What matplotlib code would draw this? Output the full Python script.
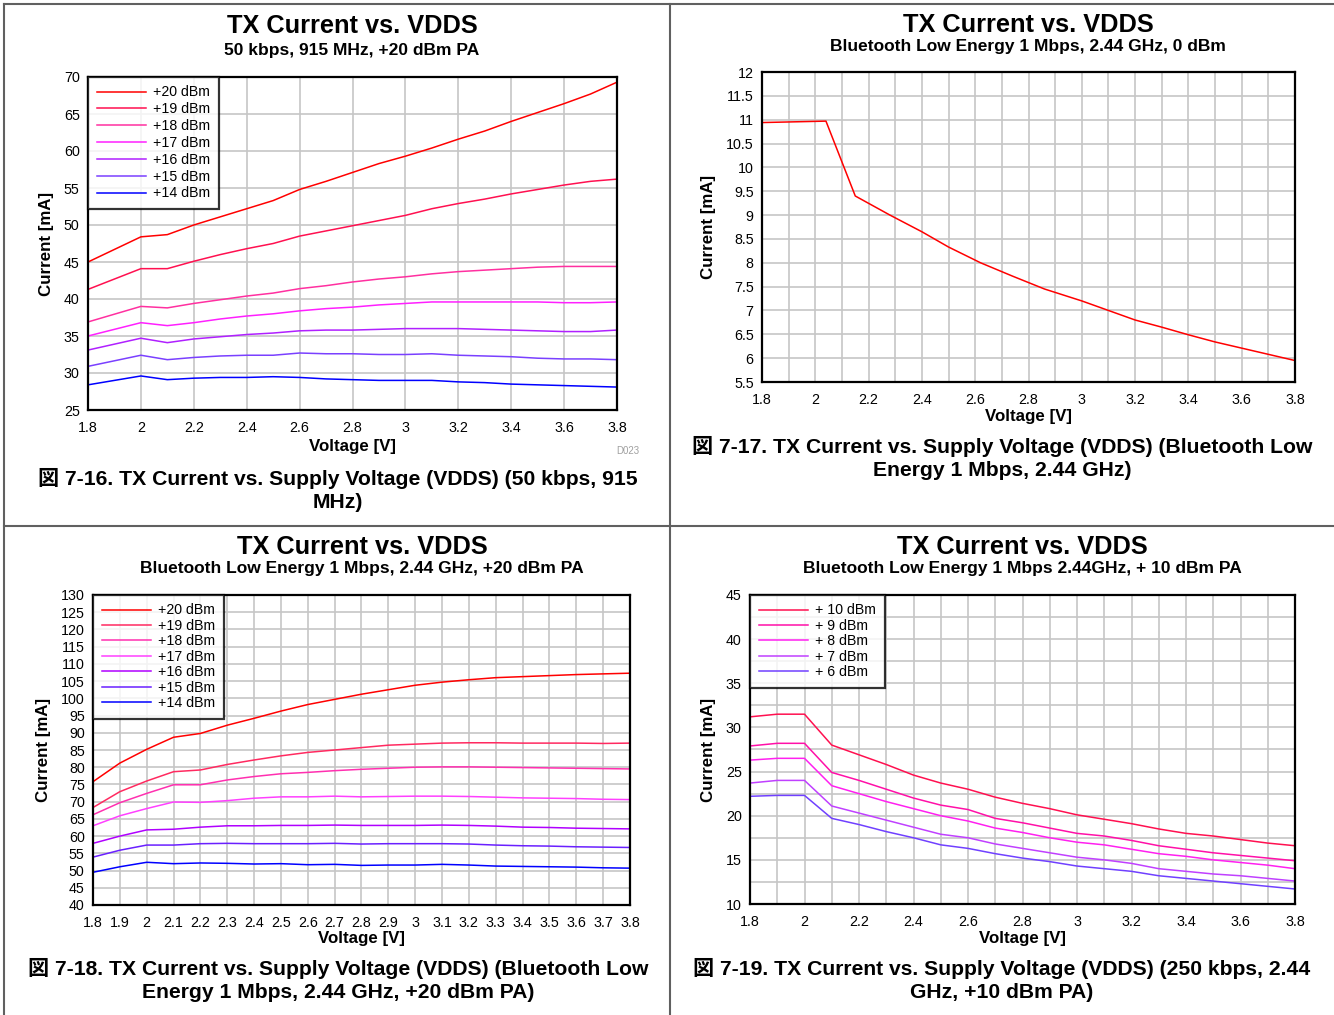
import matplotlib
matplotlib.use('Agg')
from matplotlib import pyplot as plt
from matplotlib.lines import Line2D

plt.rcParams['font.family'] = ['Liberation Sans', 'Noto Sans CJK JP', 'DejaVu Sans']

# --- figure 7-16: 50 kbps, 915 MHz, +20 dBm PA
v_1 = [1.8, 2.0, 2.1, 2.2, 2.3, 2.4, 2.5, 2.6, 2.7, 2.8, 2.9, 3.0, 3.1, 3.2, 3.3, 3.4, 3.5, 3.6, 3.7, 3.8]
labels_1 = ['+20 dBm', '+19 dBm', '+18 dBm', '+17 dBm', '+16 dBm', '+15 dBm', '+14 dBm']
colors_1 = ['#ff0000', '#ff1050', '#ff30a0', '#ff20ff', '#b020ff', '#7a40ff', '#0000ff']
i_20_1 = [45.0, 48.4, 48.7, 50.0, 51.1, 52.2, 53.3, 54.8, 55.9, 57.1, 58.3, 59.3, 60.4, 61.6, 62.7, 64.0, 65.2, 66.4, 67.7, 69.3]
i_19_1 = [41.3, 44.1, 44.1, 45.1, 46.0, 46.8, 47.5, 48.5, 49.2, 49.9, 50.6, 51.3, 52.2, 52.9, 53.5, 54.2, 54.8, 55.4, 55.9, 56.2]
i_18_1 = [36.9, 39.0, 38.8, 39.4, 39.9, 40.4, 40.8, 41.4, 41.8, 42.3, 42.7, 43.0, 43.4, 43.7, 43.9, 44.1, 44.3, 44.4, 44.4, 44.4]
i_17_1 = [35.0, 36.8, 36.4, 36.8, 37.3, 37.7, 38.0, 38.4, 38.7, 38.9, 39.2, 39.4, 39.6, 39.6, 39.6, 39.6, 39.6, 39.5, 39.5, 39.6]
i_16_1 = [33.1, 34.7, 34.1, 34.6, 34.9, 35.2, 35.4, 35.7, 35.8, 35.8, 35.9, 36.0, 36.0, 36.0, 35.9, 35.8, 35.7, 35.6, 35.6, 35.8]
i_15_1 = [30.9, 32.4, 31.8, 32.1, 32.3, 32.4, 32.4, 32.7, 32.6, 32.6, 32.5, 32.5, 32.6, 32.4, 32.3, 32.2, 32.0, 31.9, 31.9, 31.8]
i_14_1 = [28.4, 29.6, 29.1, 29.3, 29.4, 29.4, 29.5, 29.4, 29.2, 29.1, 29.0, 29.0, 29.0, 28.8, 28.7, 28.5, 28.4, 28.3, 28.2, 28.1]

# --- figure 7-17: BLE 1 Mbps, 2.44 GHz, 0 dBm
v_2 = [1.8, 2.04, 2.15, 2.28, 2.4, 2.5, 2.62, 2.74, 2.86, 3.0, 3.1, 3.2, 3.3, 3.4, 3.5, 3.6, 3.7, 3.8]
i_0_2 = [10.94, 10.97, 9.40, 9.0, 8.65, 8.33, 8.0, 7.72, 7.45, 7.2, 7.0, 6.8, 6.65, 6.49, 6.34, 6.21, 6.08, 5.95]

# --- figure 7-18: BLE 1 Mbps, 2.44 GHz, +20 dBm PA
v_3 = [1.8, 1.9, 2.0, 2.1, 2.2, 2.3, 2.4, 2.5, 2.6, 2.7, 2.8, 2.9, 3.0, 3.1, 3.2, 3.3, 3.4, 3.5, 3.6, 3.7, 3.8]
labels_3 = ['+20 dBm', '+19 dBm', '+18 dBm', '+17 dBm', '+16 dBm', '+15 dBm', '+14 dBm']
colors_3 = ['#ff0000', '#ff2a60', '#ff30b0', '#ff40ff', '#b000ff', '#6a20ff', '#0000ff']
i_20_3 = [75.8, 81.2, 85.2, 88.7, 89.8, 92.2, 94.2, 96.3, 98.2, 99.7, 101.2, 102.5, 103.8, 104.7, 105.4, 106.0, 106.3, 106.6, 106.9, 107.1, 107.3]
i_19_3 = [68.3, 72.9, 76.0, 78.7, 79.2, 80.8, 82.1, 83.3, 84.3, 85.0, 85.7, 86.4, 86.7, 87.0, 87.1, 87.1, 87.0, 87.0, 87.0, 86.9, 87.0]
i_18_3 = [66.2, 69.7, 72.4, 74.9, 74.9, 76.3, 77.3, 78.1, 78.5, 79.0, 79.4, 79.7, 80.0, 80.1, 80.1, 80.0, 79.9, 79.8, 79.7, 79.6, 79.5]
i_17_3 = [63.0, 65.9, 68.0, 69.9, 69.8, 70.3, 71.0, 71.4, 71.4, 71.6, 71.4, 71.5, 71.6, 71.6, 71.5, 71.3, 71.1, 71.0, 70.9, 70.7, 70.6]
i_16_3 = [57.9, 60.0, 61.8, 62.0, 62.6, 63.0, 63.0, 63.1, 63.1, 63.2, 63.1, 63.1, 63.1, 63.2, 63.1, 62.9, 62.6, 62.5, 62.3, 62.2, 62.1]
i_15_3 = [53.9, 55.9, 57.4, 57.4, 57.8, 57.9, 57.8, 57.8, 57.8, 57.9, 57.7, 57.8, 57.8, 57.8, 57.7, 57.4, 57.2, 57.1, 56.9, 56.8, 56.7]
i_14_3 = [49.5, 51.1, 52.4, 52.0, 52.2, 52.1, 51.9, 52.0, 51.7, 51.8, 51.5, 51.6, 51.6, 51.8, 51.6, 51.3, 51.2, 51.1, 51.0, 50.8, 50.7]

# --- figure 7-19: 250 kbps, 2.44 GHz, +10 dBm PA
v_4 = [1.8, 1.9, 2.0, 2.1, 2.2, 2.3, 2.4, 2.5, 2.6, 2.7, 2.8, 2.9, 3.0, 3.1, 3.2, 3.3, 3.4, 3.5, 3.6, 3.7, 3.8]
labels_4 = ['+ 10 dBm', '+ 9 dBm', '+ 8 dBm', '+ 7 dBm', '+ 6 dBm']
colors_4 = ['#ff1050', '#ff10a8', '#ff20f0', '#c040ff', '#7040ff']
i_10_4 = [31.2, 31.5, 31.5, 28.0, 26.9, 25.8, 24.6, 23.7, 23.0, 22.1, 21.4, 20.8, 20.1, 19.6, 19.1, 18.5, 18.0, 17.7, 17.3, 16.9, 16.6]
i_9_4 = [27.9, 28.2, 28.2, 24.9, 24.0, 23.0, 22.0, 21.2, 20.7, 19.7, 19.2, 18.6, 18.0, 17.7, 17.2, 16.6, 16.2, 15.8, 15.5, 15.2, 14.9]
i_8_4 = [26.3, 26.5, 26.5, 23.4, 22.5, 21.6, 20.8, 20.0, 19.4, 18.6, 18.1, 17.5, 17.0, 16.7, 16.2, 15.7, 15.4, 15.0, 14.7, 14.4, 14.0]
i_7_4 = [23.7, 24.0, 24.0, 21.1, 20.3, 19.5, 18.7, 17.9, 17.5, 16.8, 16.3, 15.8, 15.3, 15.0, 14.6, 14.0, 13.7, 13.4, 13.2, 12.9, 12.6]
i_6_4 = [22.2, 22.3, 22.3, 19.7, 19.0, 18.2, 17.5, 16.7, 16.3, 15.7, 15.2, 14.8, 14.3, 14.0, 13.7, 13.2, 12.9, 12.6, 12.3, 12.0, 11.7]

W, H = 1334, 1015
GRID = '#c6c6c6'
TITLE_FS = 18.3
SUB_FS = 12.5
CAP_FS = 15.2


def px_axes(fig, left, top, right, bottom):
    return fig.add_axes([left / W, 1 - bottom / H, (right - left) / W, (bottom - top) / H])


def fig_text(fig, x, y, s, **kw):
    fig.text(x / W, 1 - y / H, s, ha='center', va='center', **kw)


def style_axes(ax, xlim, ylim, xticks, yticks, xgrid, ygrid, xfmt, yfmt):
    ax.set_xlim(*xlim)
    ax.set_ylim(*ylim)
    ax.set_xticks(xticks)
    ax.set_xticklabels([xfmt(t) for t in xticks])
    ax.set_yticks(yticks)
    ax.set_yticklabels([yfmt(t) for t in yticks])
    for g in xgrid:
        ax.axvline(g, color=GRID, lw=1.2, zorder=0)
    for g in ygrid:
        ax.axhline(g, color=GRID, lw=1.2, zorder=0)
    ax.tick_params(axis='x', length=0, labelsize=10.3, pad=8)
    ax.tick_params(axis='y', length=0, labelsize=10.3, pad=6)
    for sp in ax.spines.values():
        sp.set_linewidth(1.6)
        sp.set_color('black')
    ax.set_xlabel('Voltage [V]', fontsize=12.2, fontweight='bold', labelpad=1)
    ax.set_ylabel('Current [mA]', fontsize=12.2, fontweight='bold', labelpad=7)


def add_legend(ax, labels, colors, spacing):
    handles = [Line2D([0], [0], color=c, lw=1.1) for c in colors]
    leg = ax.legend(handles, labels, loc='upper left', fontsize=10.2, frameon=True,
                    fancybox=False, borderaxespad=0, handlelength=3.5,
                    labelspacing=spacing, borderpad=0.6, handletextpad=0.5)
    leg.get_frame().set_edgecolor('black')
    leg.get_frame().set_linewidth(1.6)


def fmt_num(t):
    s = f'{t:.1f}'
    return s[:-2] if s.endswith('.0') else s


def fmt_int(t):
    return str(int(round(t)))


fig = plt.figure(figsize=(W / 100, H / 100), dpi=100)

# panel border lines
border = '#606060'
fig.add_artist(Line2D([4 / W, 4 / W], [0, 1 - 4 / H], color=border, lw=1.5))
fig.add_artist(Line2D([4 / W, 1], [1 - 4 / H, 1 - 4 / H], color=border, lw=1.5))
fig.add_artist(Line2D([670 / W, 670 / W], [0, 1 - 4 / H], color=border, lw=1.5))
fig.add_artist(Line2D([4 / W, 1], [1 - 526 / H, 1 - 526 / H], color=border, lw=1.5))

# ---------------- plot 1
ax1 = px_axes(fig, 88, 77, 617, 410)
for ys, c in zip([i_20_1, i_19_1, i_18_1, i_17_1, i_16_1, i_15_1, i_14_1], colors_1):
    ax1.plot(v_1, ys, color=c, lw=1.1)
ticks_x1 = [1.8 + 0.2 * k for k in range(11)]
style_axes(ax1, (1.8, 3.8), (25, 70), ticks_x1, list(range(25, 71, 5)),
           ticks_x1, list(range(25, 71, 5)), fmt_num, fmt_int)
ax1.xaxis.labelpad = 3
add_legend(ax1, labels_1, colors_1, 0.2)
fig_text(fig, 352, 26, 'TX Current vs. VDDS', fontsize=TITLE_FS, fontweight='bold')
fig_text(fig, 352, 50, '50 kbps, 915 MHz, +20 dBm PA', fontsize=SUB_FS, fontweight='bold')
fig_text(fig, 628, 451, 'D023', fontsize=7, color='#a0a0a0')
fig_text(fig, 338, 478, '図 7-16. TX Current vs. Supply Voltage (VDDS) (50 kbps, 915', fontsize=CAP_FS, fontweight='bold')
fig_text(fig, 338, 503, 'MHz)', fontsize=CAP_FS, fontweight='bold')

# ---------------- plot 2
ax2 = px_axes(fig, 762, 72, 1295, 382)
ax2.plot(v_2, i_0_2, color='#ff0000', lw=1.1)
ticks_y2 = [5.5 + 0.5 * k for k in range(14)]
style_axes(ax2, (1.8, 3.8), (5.5, 12), ticks_x1, ticks_y2,
           [1.8 + 0.1 * k for k in range(21)], ticks_y2, fmt_num, fmt_num)
fig_text(fig, 1028, 25, 'TX Current vs. VDDS', fontsize=TITLE_FS, fontweight='bold')
fig_text(fig, 1028, 47, 'Bluetooth Low Energy 1 Mbps, 2.44 GHz, 0 dBm', fontsize=SUB_FS, fontweight='bold')
fig_text(fig, 1002, 446, '図 7-17. TX Current vs. Supply Voltage (VDDS) (Bluetooth Low', fontsize=CAP_FS, fontweight='bold')
fig_text(fig, 1002, 471, 'Energy 1 Mbps, 2.44 GHz)', fontsize=CAP_FS, fontweight='bold')

# ---------------- plot 3
ax3 = px_axes(fig, 93, 595, 630, 905)
for ys, c in zip([i_20_3, i_19_3, i_18_3, i_17_3, i_16_3, i_15_3, i_14_3], colors_3):
    ax3.plot(v_3, ys, color=c, lw=1.1)
ticks_x3 = [1.8 + 0.1 * k for k in range(21)]
style_axes(ax3, (1.8, 3.8), (40, 130), ticks_x3, list(range(40, 131, 5)),
           ticks_x3, list(range(40, 131, 5)), fmt_num, fmt_int)
add_legend(ax3, labels_3, colors_3, 0.1)
fig_text(fig, 362, 547, 'TX Current vs. VDDS', fontsize=TITLE_FS, fontweight='bold')
fig_text(fig, 362, 569, 'Bluetooth Low Energy 1 Mbps, 2.44 GHz, +20 dBm PA', fontsize=SUB_FS, fontweight='bold')
fig_text(fig, 338, 968, '図 7-18. TX Current vs. Supply Voltage (VDDS) (Bluetooth Low', fontsize=CAP_FS, fontweight='bold')
fig_text(fig, 338, 993, 'Energy 1 Mbps, 2.44 GHz, +20 dBm PA)', fontsize=CAP_FS, fontweight='bold')

# ---------------- plot 4
ax4 = px_axes(fig, 750, 595, 1295, 904)
for ys, c in zip([i_10_4, i_9_4, i_8_4, i_7_4, i_6_4], colors_4):
    ax4.plot(v_4, ys, color=c, lw=1.1)
style_axes(ax4, (1.8, 3.8), (10, 45), ticks_x1, list(range(10, 46, 5)),
           ticks_x3, [10 + 2.5 * k for k in range(15)], fmt_num, fmt_int)
add_legend(ax4, labels_4, colors_4, 0.1)
fig_text(fig, 1022, 547, 'TX Current vs. VDDS', fontsize=TITLE_FS, fontweight='bold')
fig_text(fig, 1022, 569, 'Bluetooth Low Energy 1 Mbps 2.44GHz, + 10 dBm PA', fontsize=SUB_FS, fontweight='bold')
fig_text(fig, 1002, 968, '図 7-19. TX Current vs. Supply Voltage (VDDS) (250 kbps, 2.44', fontsize=CAP_FS, fontweight='bold')
fig_text(fig, 1002, 993, 'GHz, +10 dBm PA)', fontsize=CAP_FS, fontweight='bold')

fig.savefig('out.png', dpi=100)
